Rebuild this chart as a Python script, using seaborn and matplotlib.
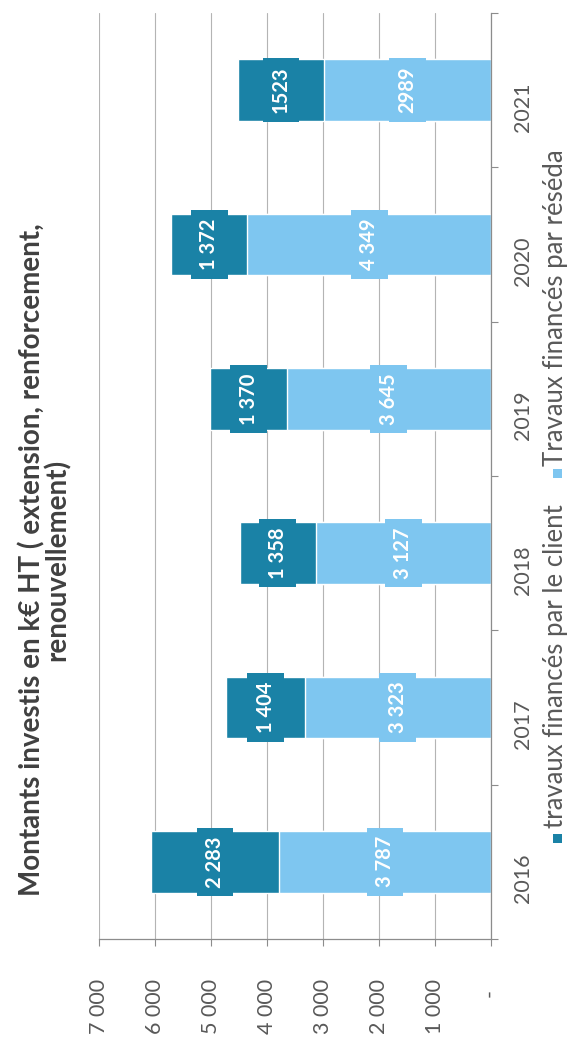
import numpy as np
import pandas as pd
import matplotlib
matplotlib.use("Agg")
import matplotlib.pyplot as plt
from matplotlib.patches import Rectangle
import seaborn as sns

# -----------------------------
# Data
# -----------------------------
years = ["2016", "2017", "2018", "2019", "2020", "2021"]
client = [2283, 1404, 1358, 1370, 1372, 1523]
reseda = [3787, 3323, 3127, 3645, 4349, 2989]
client_labels = ["2 283", "1 404", "1 358", "1 370", "1 372", "1523"]
reseda_labels = ["3 787", "3 323", "3 127", "3 645", "4 349", "2989"]
value_ticks = [0, 1000, 2000, 3000, 4000, 5000, 6000, 7000]
value_tick_labels = ["-  ", "1 000", "2 000", "3 000", "4 000", "5 000", "6 000", "7 000"]

title = "Montants investis en k€ HT ( extension, renforcement,\nrenouvellement)"
legend_client = "travaux financés par le client"
legend_reseda = "Travaux financés par réséda"

DARK = "#1a82a6"
LIGHT = "#7ec6f0"
GREY_TXT = "#595959"

sns.set_theme(style="white")
plt.rcParams["font.family"] = ["Lato", "DejaVu Sans"]

df = pd.DataFrame({"year": years, "client": client, "reseda": reseda})
df["total"] = df["client"] + df["reseda"]

# 2021 at the top, 2016 at the bottom (the chart is rotated a quarter turn)
order = years[::-1]

fig = plt.figure(figsize=(5.7, 10.46), dpi=100)
ax = fig.add_axes([0.1737, 0.1023, 0.6877, 0.8853])

# stacked bars: the total in dark, the réséda part drawn over it in light
sns.barplot(data=df, y="year", x="total", order=order, orient="h", color=DARK,
            saturation=1, width=0.4, errorbar=None, ax=ax)
sns.barplot(data=df, y="year", x="reseda", order=order, orient="h", color=LIGHT,
            saturation=1, width=0.4, errorbar=None, ax=ax)

ax.set_xlim(7000, 0)
ax.set_ylim(5.5, -0.5)
ax.set_xlabel("")
ax.set_ylabel("")

# value axis (bottom)
ax.set_xticks(value_ticks, labels=value_tick_labels)
ax.tick_params(axis="x", which="major", bottom=True, length=5, width=0.8, color="#8c8c8c",
               pad=24, labelrotation=90, labelsize=15.5, labelcolor=GREY_TXT)
ax.grid(axis="x", color="#b4b4b4", linewidth=0.8)
ax.grid(axis="y", visible=False)
ax.set_axisbelow(True)

# category axis (right side), ticks between categories, labels at centres
ax.set_yticks(np.arange(-0.5, len(order), 1.0), labels=[""] * (len(order) + 1))
ax.set_yticks(np.arange(len(order)), labels=order, minor=True)
ax.tick_params(axis="y", which="both", left=False, labelleft=False, right=True, labelright=True)
ax.tick_params(axis="y", which="major", length=5, width=0.8, color="#8c8c8c")
ax.tick_params(axis="y", which="minor", length=0, pad=16, labelrotation=90,
               labelsize=15.5, labelcolor=GREY_TXT)

for side in ["left", "top"]:
    ax.spines[side].set_visible(False)
for side in ["right", "bottom"]:
    ax.spines[side].set_color("#8c8c8c")
    ax.spines[side].set_linewidth(0.9)

# data labels with a box in the segment colour
for i, year in enumerate(years):
    pos = order.index(year)
    ax.text(reseda[i] / 2, pos, reseda_labels[i], rotation=90, ha="center", va="center",
            color="white", fontsize=14.5, fontweight="bold",
            bbox=dict(boxstyle="square,pad=0.42", fc=LIGHT, ec="none"))
    ax.text(reseda[i] + client[i] / 2, pos, client_labels[i], rotation=90, ha="center",
            va="center", color="white", fontsize=14.5, fontweight="bold",
            bbox=dict(boxstyle="square,pad=0.42", fc=DARK, ec="none"))

# title (left side, rotated)
fig.text(0.078, 0.4646, title, rotation=90, ha="center", va="center",
         multialignment="center", fontsize=20, fontweight="bold", color="#404040",
         linespacing=0.95)

# legend (right side, rotated)
W, H = 570.0, 1046.0
for ycen, col in [(838, DARK), (474, LIGHT)]:
    fig.add_artist(Rectangle(((557.5 - 4.5) / W, 1 - (ycen + 4.5) / H), 9 / W, 9 / H,
                             transform=fig.transFigure, fc=col, ec="none"))
fig.text(556 / W, 1 - 828 / H, legend_client, rotation=90, ha="center", va="bottom",
         fontsize=18.5, color=GREY_TXT)
fig.text(556 / W, 1 - 466 / H, legend_reseda, rotation=90, ha="center", va="bottom",
         fontsize=18.5, color=GREY_TXT)

fig.savefig("out.png", dpi=100)
plt.close(fig)
